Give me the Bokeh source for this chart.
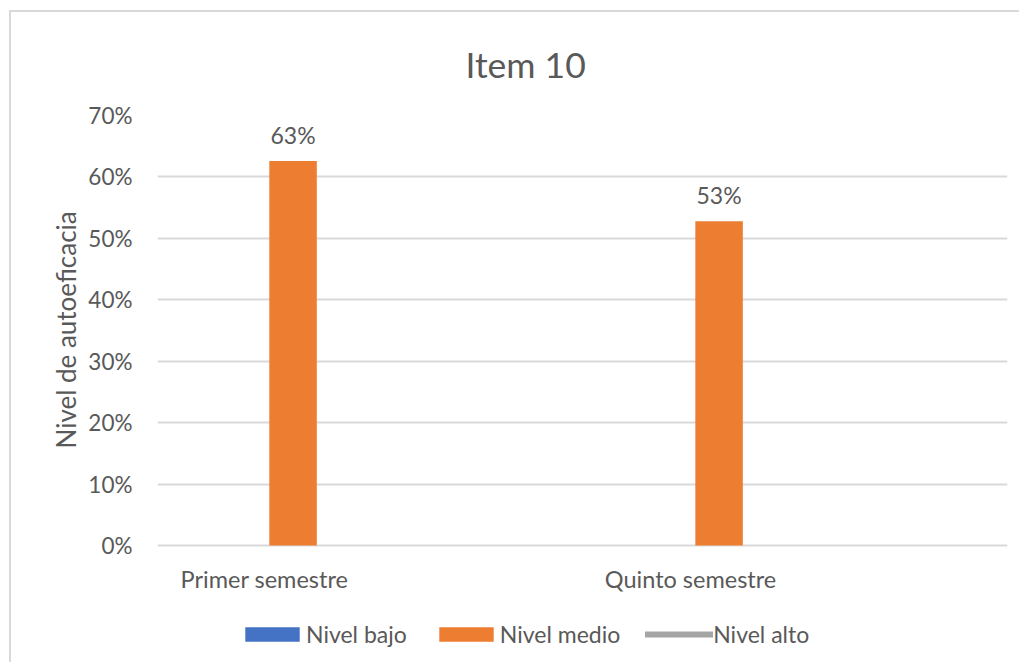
from bokeh.plotting import figure
from bokeh.models import (ColumnDataSource, Range1d, FixedTicker, NumeralTickFormatter,
                          Legend, LegendItem, Title)
from bokeh.core.properties import value
from bokeh.embed import file_html
from bokeh.resources import INLINE

# ---- data ----
categories = ["Primer semestre", "Quinto semestre"]
series_names = ["Nivel bajo", "Nivel medio", "Nivel alto"]
nivel_bajo = [0.0, 0.0]
nivel_medio = [0.626, 0.528]
nivel_alto = [float("nan"), float("nan")]
y_ticks = [0.0, 0.1, 0.2, 0.3, 0.4, 0.5, 0.6, 0.7]

FONT = "Lato"
TXT = "#595959"
GRID = "#d9d9d9"
colors = {"Nivel bajo": "#4472c4", "Nivel medio": "#ed7d31", "Nivel alto": "#a5a5a5"}

cat_x = [i + 0.5 for i in range(len(categories))]
bar_w = 0.1115
dodge = 0.067
y_max = 0.7
y_min = -y_max * 117 / 430   # extra room under the 0% line for labels and legend

p = figure(width=1010, height=652, output_backend="svg", toolbar_location=None,
           x_range=Range1d(0.2488, 2.244), y_range=Range1d(y_min, y_max),
           x_axis_location=None,
           min_border_left=146, min_border_right=14, min_border_top=103, min_border_bottom=2)
p.styles = {"margin-left": "11px", "margin-top": "12px",
            "box-shadow": "-2px -2px 0 0 #d9d9d9"}
p.outline_line_color = None
p.background_fill_color = "white"
p.border_fill_color = "white"

src = ColumnDataSource(dict(
    x_bajo=[c + dodge - bar_w for c in cat_x],
    x_medio=[c + dodge for c in cat_x],
    x_alto=[c + dodge + bar_w for c in cat_x],
    bajo=nivel_bajo, medio=nivel_medio, alto=nivel_alto,
    lbl=[f"{round(v * 100)}%" for v in nivel_medio],
    cx=cat_x, cat=categories,
))

r_bajo = p.vbar(x="x_bajo", top="bajo", width=bar_w, source=src,
                fill_color=colors["Nivel bajo"], line_color=None)
r_medio = p.vbar(x="x_medio", top="medio", width=bar_w, source=src,
                 fill_color=colors["Nivel medio"], line_color=None)
r_alto = p.line(x="x_alto", y="alto", source=src, line_color=colors["Nivel alto"],
                line_width=6, line_cap="round")

# data labels
p.text(x="x_medio", y="medio", text="lbl", source=src, y_offset=-26,
       text_align="center", text_baseline="middle", text_color=TXT,
       text_font=value(FONT), text_font_size="23px")
# category labels under the 0% line
p.text(x="cx", y=0, text="cat", source=src, y_offset=33,
       text_align="center", text_baseline="middle", text_color=TXT,
       text_font=value(FONT), text_font_size="23.5px")

# y axis
p.yaxis.ticker = FixedTicker(ticks=y_ticks)
p.yaxis.formatter = NumeralTickFormatter(format="0%")
p.yaxis.major_tick_line_color = None
p.yaxis.minor_tick_line_color = None
p.yaxis.major_tick_out = 0
p.yaxis.major_tick_in = 0
p.yaxis.major_label_text_color = TXT
p.yaxis.major_label_text_font = FONT
p.yaxis.major_label_text_font_size = "22.5px"
p.yaxis.axis_line_color = None
p.yaxis.major_label_standoff = 25

p.xgrid.grid_line_color = None
p.ygrid.grid_line_color = GRID
p.ygrid.grid_line_width = 2

# y axis title (left side)
p.add_layout(Title(text="Nivel de autoeficacia", align="left", offset=214,
                   text_font=FONT, text_font_size="26px", text_font_style="normal",
                   text_color=TXT, standoff=8), "left")

# chart title
p.title = Title(text="Item 10", align="left", offset=308, vertical_align="middle",
                text_font=FONT, text_font_size="35.5px", text_font_style="normal",
                text_color=TXT, standoff=57)

# legend
legend = Legend(items=[LegendItem(label=series_names[0], renderers=[r_bajo]),
                       LegendItem(label=series_names[1], renderers=[r_medio]),
                       LegendItem(label=series_names[2], renderers=[r_alto])],
                orientation="horizontal", location=(81, 14),
                glyph_width=68, glyph_height=18, label_standoff=0, spacing=25,
                padding=0, margin=0, border_line_color=None, background_fill_alpha=0,
                label_text_font=FONT, label_text_font_size="23px", label_text_color=TXT)
p.add_layout(legend, "center")

open("out.html", "w").write(file_html(p, INLINE))
